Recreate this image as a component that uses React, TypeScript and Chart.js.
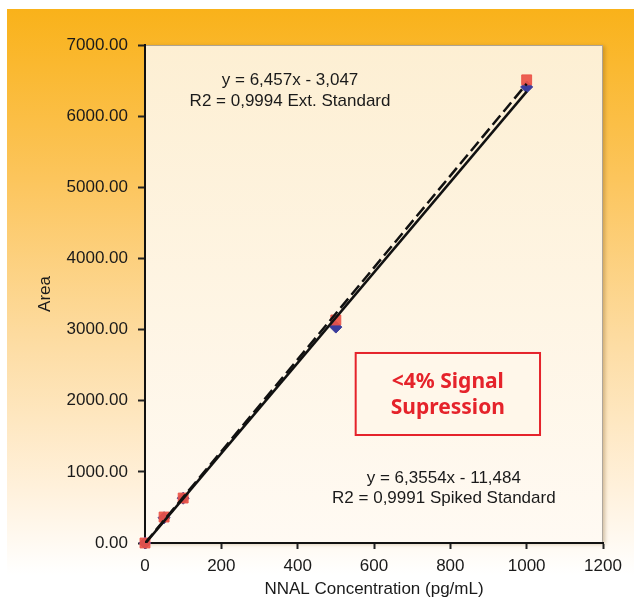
import React, { useEffect, useRef } from "react";
import { Chart, registerables } from "chart.js";

Chart.register(...registerables);

// ---- data ----
const concentrations = [0, 50, 100, 500, 1000];
const extStandardArea = [0, 355, 630, 3035, 6410];
const spikedStandardArea = [0, 365, 632, 3135, 6510];
const trendX = [0, 1000];
const extTrendArea = [-3, 6454];
const spikedTrendArea = [-11, 6344];

const xTitle = "NNAL Concentration (pg/mL)";
const yTitle = "Area";
const extEquation = ["y = 6,457x - 3,047", "R2 = 0,9994 Ext. Standard"];
const spikedEquation = ["y = 6,3554x - 11,484", "R2 = 0,9991 Spiked Standard"];
const boxText = ["<4% Signal", "Supression"];

const FONT = "'Liberation Sans', Arial, sans-serif";

const bgPlugin = {
  id: "bgPlugin",
  beforeDraw(chart: any) {
    const { ctx, chartArea: a, width, height } = chart;
    ctx.save();
    ctx.fillStyle = "#ffffff";
    ctx.fillRect(0, 0, width, height);
    const g = ctx.createLinearGradient(0, 9, 0, 575);
    g.addColorStop(0, "#F9B21A");
    g.addColorStop(0.3, "#FCC55C");
    g.addColorStop(0.6, "#FDDDA5");
    g.addColorStop(0.85, "#FFF1DC");
    g.addColorStop(1, "#FFFFFF");
    ctx.fillStyle = g;
    ctx.fillRect(7, 9, width - 7, height - 9);
    // plot area
    ctx.shadowColor = "rgba(120,80,20,0.35)";
    ctx.shadowBlur = 4;
    ctx.shadowOffsetX = 2;
    ctx.shadowOffsetY = 1;
    const p = ctx.createLinearGradient(0, a.top, 0, a.bottom);
    p.addColorStop(0, "#FDEFD3");
    p.addColorStop(1, "#FFFAF3");
    ctx.fillStyle = p;
    ctx.fillRect(a.left, a.top, a.right - a.left, a.bottom - a.top);
    ctx.shadowColor = "transparent";
    ctx.strokeStyle = "rgba(110,100,90,0.55)";
    ctx.lineWidth = 1;
    ctx.strokeRect(a.left + 0.5, a.top + 0.5, a.right - a.left - 1, a.bottom - a.top - 1);
    ctx.restore();
  },
};

const annotationPlugin = {
  id: "annotationPlugin",
  afterDatasetsDraw(chart: any) {
    const { ctx, scales } = chart;
    const x = scales.x;
    const y = scales.y;
    ctx.save();
    ctx.fillStyle = "#1a1a1a";
    ctx.font = `17px ${FONT}`;
    ctx.textAlign = "center";
    ctx.textBaseline = "middle";
    ctx.fillText(extEquation[0], x.getPixelForValue(380), y.getPixelForValue(6510));
    ctx.fillText(extEquation[1], x.getPixelForValue(380), y.getPixelForValue(6213));
    ctx.fillText(spikedEquation[0], x.getPixelForValue(783), y.getPixelForValue(914));
    ctx.fillText(spikedEquation[1], x.getPixelForValue(783), y.getPixelForValue(633));

    const bx0 = x.getPixelForValue(552);
    const bx1 = x.getPixelForValue(1035);
    const by0 = y.getPixelForValue(2671);
    const by1 = y.getPixelForValue(1518);
    ctx.fillStyle = "#FFF7EA";
    ctx.fillRect(bx0, by0, bx1 - bx0, by1 - by0);
    ctx.strokeStyle = "#E5232B";
    ctx.lineWidth = 2;
    ctx.strokeRect(bx0, by0, bx1 - bx0, by1 - by0);
    ctx.fillStyle = "#E5232B";
    ctx.font = `bold 21px 'Noto Sans', 'Open Sans', sans-serif`;
    const cx = (bx0 + bx1) / 2;
    ctx.fillText(boxText[0], cx, y.getPixelForValue(2265));
    ctx.fillText(boxText[1], cx, y.getPixelForValue(1900));
    ctx.restore();
  },
};

export default function App() {
  const ref = useRef<HTMLCanvasElement | null>(null);

  useEffect(() => {
    if (!ref.current) return;
    const pts = (ys: number[]) => concentrations.map((c, i) => ({ x: c, y: ys[i] }));
    const line = (ys: number[]) => trendX.map((c, i) => ({ x: c, y: ys[i] }));
    const tickFont = { family: FONT, size: 17 };
    const chart = new Chart(ref.current, {
      type: "scatter",
      data: {
        datasets: [
          {
            label: "Ext. trend",
            data: line(extTrendArea),
            showLine: true,
            borderColor: "#111",
            borderWidth: 2.5,
            borderDash: [12, 5],
            pointRadius: 0,
            order: 0,
          },
          {
            label: "Spiked trend",
            data: line(spikedTrendArea),
            showLine: true,
            borderColor: "#111",
            borderWidth: 2.5,
            pointRadius: 0,
            order: 0,
          },
          {
            label: "Spiked Standard",
            data: pts(spikedStandardArea),
            pointStyle: "rect",
            pointRadius: 7,
            backgroundColor: "rgba(236,82,70,0.92)",
            borderColor: "rgba(236,82,70,0.92)",
            clip: false,
            order: 1,
          },
          {
            label: "Ext. Standard",
            data: pts(extStandardArea),
            pointStyle: "rectRot",
            pointRadius: 6,
            backgroundColor: "#3A3C9C",
            borderColor: "#3A3C9C",
            clip: false,
            order: 2,
          },
        ],
      },
      options: {
        responsive: false,
        animation: false,
        layout: { padding: { top: 45, right: 31, left: 0, bottom: 0 } },
        plugins: { legend: { display: false }, tooltip: { enabled: false } },
        scales: {
          x: {
            type: "linear",
            min: 0,
            max: 1200,
            afterFit(s: any) {
              s.height = 60;
            },
            ticks: {
              stepSize: 200,
              font: tickFont,
              color: "#1a1a1a",
              padding: 7,
              callback: (v: any) => String(v),
            },
            grid: { drawOnChartArea: false, drawTicks: true, tickLength: 6, color: "#222", tickWidth: 2 },
            border: { color: "#111", width: 2 },
            title: { display: true, text: xTitle, font: tickFont, color: "#1a1a1a", padding: { top: 0, bottom: 3 } },
          },
          y: {
            type: "linear",
            min: 0,
            max: 7000,
            afterFit(s: any) {
              s.width = 145;
            },
            ticks: {
              stepSize: 1000,
              font: tickFont,
              color: "#1a1a1a",
              padding: 10,
              callback: (v: any) => Number(v).toFixed(2),
            },
            grid: { drawOnChartArea: false, drawTicks: true, tickLength: 7, color: "#222", tickWidth: 2 },
            border: { color: "#111", width: 2 },
            title: { display: true, text: yTitle, font: tickFont, color: "#1a1a1a", padding: { top: 35, bottom: 0 } },
          },
        },
      },
      plugins: [bgPlugin, annotationPlugin],
    } as any);
    return () => chart.destroy();
  }, []);

  return (
    <div style={{ position: "absolute", left: 0, top: 0, width: 634, height: 603 }}>
      <canvas ref={ref} width={634} height={603} style={{ display: "block", width: 634, height: 603 }} />
    </div>
  );
}
